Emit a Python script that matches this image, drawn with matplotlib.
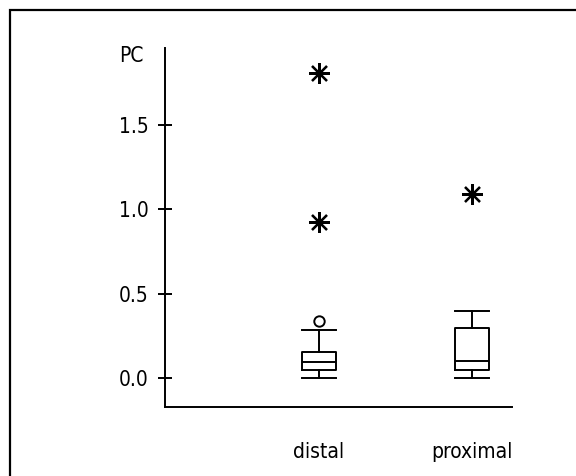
import matplotlib
matplotlib.use("Agg")
import matplotlib.pyplot as plt
from matplotlib.patches import Rectangle

categories = ["distal", "proximal"]
q1 = [0.047, 0.047]
med = [0.095, 0.103]
q3 = [0.154, 0.296]
whislo = [0.0, 0.0]
whishi = [0.285, 0.40]
near_outliers = [[0.34], []]
far_outliers = [[1.81, 0.927], [1.09]]
yticks = [0.0, 0.5, 1.0, 1.5]

plt.rcParams['font.family'] = ['DejaVu Sans']
plt.rcParams['font.stretch'] = 'condensed'

fig = plt.figure(figsize=(5.76, 4.76), dpi=100)
ax = fig.add_axes([165/576, 69/476, (512-165)/576, (407-48)/476])

positions = [1, 2]
stats = []
for i, c in enumerate(categories):
    stats.append(dict(label=c, q1=q1[i], med=med[i], q3=q3[i],
                      whislo=whislo[i], whishi=whishi[i], fliers=near_outliers[i]))

lw = 1.4
ax.bxp(stats, positions=positions, widths=0.22, capwidths=0.22,
       boxprops=dict(color='black', linewidth=lw),
       medianprops=dict(color='black', linewidth=lw),
       whiskerprops=dict(color='black', linewidth=lw),
       capprops=dict(color='black', linewidth=lw),
       flierprops=dict(marker='o', markerfacecolor='white', markeredgecolor='black',
                       markersize=7.5, markeredgewidth=1.4))

for p, vals in zip(positions, far_outliers):
    ax.plot([p]*len(vals), vals, linestyle='none', marker=(8, 2, 0),
            markersize=15, markeredgewidth=1.6, color='black')

ax.set_xlim(-0.0065, 2.261)
ax.set_ylim(-0.172, 1.957)
ax.set_yticks(yticks)
ax.set_yticklabels([f"{v:.1f}" for v in yticks])
ax.set_xticks(positions)
ax.set_xticklabels(categories)

for s in ['top', 'right']:
    ax.spines[s].set_visible(False)
for s in ['left', 'bottom']:
    ax.spines[s].set_linewidth(1.4)

ax.tick_params(axis='y', direction='inout', length=10, width=1.4, pad=7, labelsize=15)
ax.tick_params(axis='x', length=0, pad=25, labelsize=15)

fig.text(131/576, 1-56/476, "PC", ha='center', va='center', fontsize=15)

fig.patches.append(Rectangle((9.5/576, -0.1), 2, (1-9.5/476)+0.1, transform=fig.transFigure,
                             fill=False, linewidth=1.6, edgecolor='black', clip_on=False))

fig.savefig("out.png", dpi=100)
